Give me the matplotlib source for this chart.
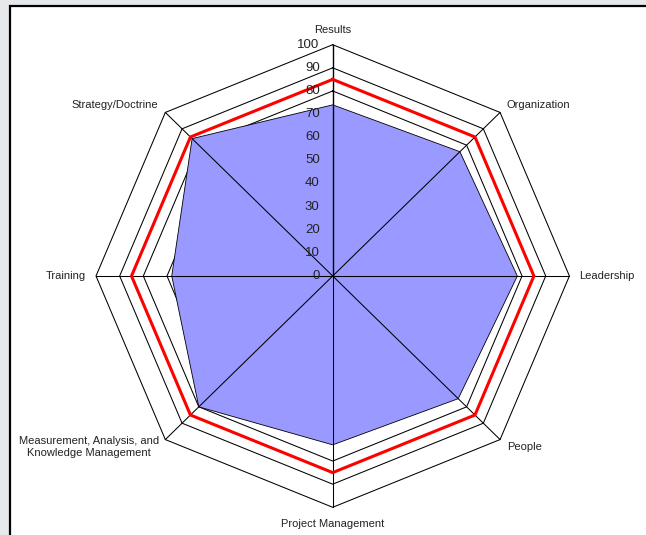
import numpy as np
import matplotlib.pyplot as plt
from matplotlib.lines import Line2D
from matplotlib.patches import Rectangle

plt.rcParams['font.family'] = ['Liberation Sans', 'DejaVu Sans']

# Scores per category, clockwise from the top
categories = ['Results', 'Organization', 'Leadership', 'People',
              'Project Management',
              'Measurement, Analysis, and\nKnowledge Management',
              'Training', 'Strategy/Doctrine']
scores = [74, 76, 78, 75, 73, 80, 68, 84]
target = [85, 85, 85, 85, 85, 85, 85, 85]
tick_values = list(range(0, 101, 10))

n = len(categories)
theta = 2 * np.pi * np.arange(n) / n
sx, sy = np.sin(theta), np.cos(theta)

def closed(a):
    return np.append(a, a[0])

W, H = 646, 535
fig = plt.figure(figsize=(W / 100, H / 100), dpi=100)
fig.patch.set_facecolor('#e6e9ec')

# white chart area, framed in black on the left and top only
left, top = 9.7 / W, 1 - 5.8 / H
fig.add_artist(Rectangle((left, 0), 1 - left, top, transform=fig.transFigure,
                         facecolor='white', edgecolor='none', zorder=0))
fig.add_artist(Line2D([left, left, 1], [0, top, top], transform=fig.transFigure,
                      color='black', lw=1.6, zorder=0.5,
                      solid_joinstyle='miter'))

cx, cy = 332.7, H - 276
rx, ry = 236.7, 231.3
ax = fig.add_axes([(cx - rx) / W, (cy - ry) / H, 2 * rx / W, 2 * ry / H])
ax.set_xlim(-100, 100)
ax.set_ylim(-100, 100)
ax.axis('off')

# octagon gridlines
for lvl in tick_values[1:]:
    ax.plot(closed(lvl * sx), closed(lvl * sy), color='black', lw=0.75,
            zorder=1, clip_on=False)

# score area
vals = np.array(scores, dtype=float)
ax.fill(closed(vals * sx), closed(vals * sy), facecolor='#9999ff',
        edgecolor='black', lw=0.6, zorder=2, clip_on=False)

# spokes
for i in range(n):
    ax.plot([0, 100 * sx[i]], [0, 100 * sy[i]], color='black',
            lw=1.0 if i == 0 else 0.75, zorder=3, clip_on=False)

# target line
tv = np.array(target, dtype=float)
ax.plot(closed(tv * sx), closed(tv * sy), color='#ff0000', lw=2.2,
        solid_joinstyle='miter', zorder=4, clip_on=False)

# value axis labels
for v in tick_values:
    ax.annotate(str(v), (0, v), xytext=(-13, 0), textcoords='offset pixels',
                ha='right', va='center', fontsize=9.5, color='#222222',
                zorder=5)

# category labels
offsets = [(0, 15, 'center'), (6, 7, 'left'), (10, 0, 'left'),
           (7.5, -7.5, 'left'), (0, -17, 'center'), (-6, -7.5, 'right'),
           (-10, 0, 'right'), (-7.5, 7, 'right')]
for i, (label, (dx, dy, ha)) in enumerate(zip(categories, offsets)):
    ax.annotate(label, (100 * sx[i], 100 * sy[i]), xytext=(dx, dy),
                textcoords='offset pixels', ha=ha, va='center',
                multialignment='center', linespacing=1.25,
                fontsize=8, color='#222222', zorder=5)

fig.savefig('out.png', dpi=100, facecolor=fig.get_facecolor())
